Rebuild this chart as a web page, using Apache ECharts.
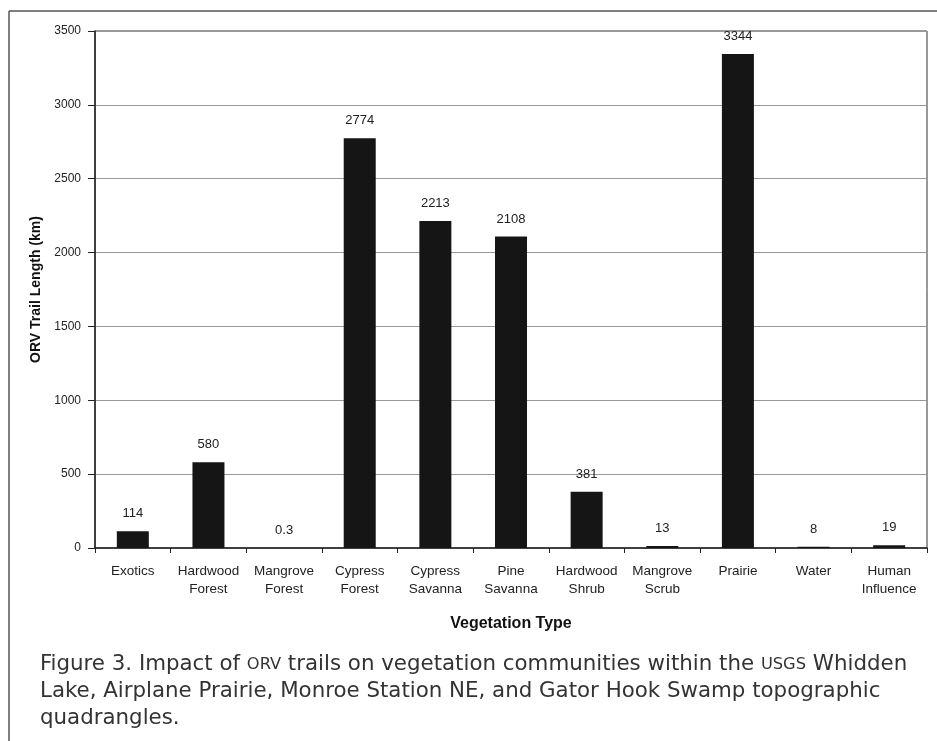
<!DOCTYPE html>
<html>
<head>
<meta charset="utf-8">
<script src="https://cdn.jsdelivr.net/npm/echarts@6/dist/echarts.min.js"></script>
<style>html,body{margin:0;padding:0;background:#fff;}#c{width:937px;height:741px;}</style>
</head>
<body>
<div id="c"></div>
<script>
const categories = ['Exotics', 'Hardwood\nForest', 'Mangrove\nForest', 'Cypress\nForest', 'Cypress\nSavanna', 'Pine\nSavanna', 'Hardwood\nShrub', 'Mangrove\nScrub', 'Prairie', 'Water', 'Human\nInfluence'];
const trailLength = [114, 580, 0.3, 2774, 2213, 2108, 381, 13, 3344, 8, 19];
const yTicks = [0, 500, 1000, 1500, 2000, 2500, 3000, 3500];
const captionLines = [
  'Figure 3. Impact of {sc|ORV} trails on vegetation communities within the {sc|USGS} Whidden',
  'Lake, Airplane Prairie, Monroe Station NE, and Gator Hook Swamp topographic',
  'quadrangles.'
];

const chart = echarts.init(document.getElementById('c'));
const font = 'Liberation Sans, Arial, sans-serif';
const cap = 'DejaVu Sans Condensed, Liberation Sans, sans-serif';
chart.setOption({
  animation: false,
  backgroundColor: '#fff',
  graphic: [
    { type: 'line', shape: { x1: 9, y1: 11, x2: 937, y2: 11 }, style: { stroke: '#555', lineWidth: 1.5 } },
    { type: 'line', shape: { x1: 9, y1: 11, x2: 9, y2: 741 }, style: { stroke: '#555', lineWidth: 1.5 } },
    {
      type: 'text', x: 40, y: 651, scaleX: 1.13,
      style: {
        text: captionLines.join('\n'),
        font: '21px ' + cap, fill: '#333', lineHeight: 27,
        rich: { sc: { fontFamily: cap, fontSize: 16, fill: '#333', lineHeight: 27 } }
      }
    }
  ],
  grid: { left: 95, right: 10, top: 31, bottom: 193, show: true, borderColor: '#333', borderWidth: 1 },
  xAxis: {
    type: 'category', data: categories,
    name: 'Vegetation Type', nameLocation: 'middle', nameGap: 68,
    nameTextStyle: { fontFamily: font, fontSize: 16, fontWeight: 'bold', color: '#111' },
    axisLine: { lineStyle: { color: '#222', width: 1.5 } },
    axisTick: { show: true, alignWithLabel: false, length: 5, lineStyle: { color: '#222' } },
    axisLabel: { fontFamily: font, fontSize: 13.5, color: '#222', margin: 14, lineHeight: 18, interval: 0 }
  },
  yAxis: {
    type: 'value', min: 0, max: 3500, interval: 500,
    name: 'ORV Trail Length (km)', nameLocation: 'middle', nameGap: 52,
    nameTextStyle: { fontFamily: font, fontSize: 14, fontWeight: 'bold', color: '#111' },
    axisLine: { show: true, lineStyle: { color: '#222', width: 1.5 } },
    axisTick: { show: true, inside: false, length: 7, lineStyle: { color: '#222' } },
    axisLabel: { fontFamily: font, fontSize: 12, color: '#222', margin: 14,
      formatter: v => yTicks.includes(v) ? String(v) : '' },
    splitLine: { lineStyle: { color: '#999', width: 1 } }
  },
  series: [{
    type: 'bar', data: trailLength, barWidth: 32,
    itemStyle: { color: '#151515' },
    label: { show: true, position: 'top', distance: 11, fontFamily: font, fontSize: 13, color: '#222',
      formatter: p => String(p.value) }
  }]
});
</script>
</body>
</html>
